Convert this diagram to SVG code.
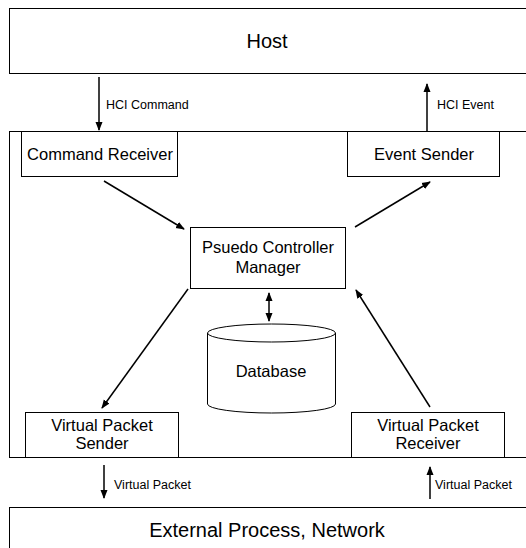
<svg xmlns="http://www.w3.org/2000/svg" width="526" height="548" viewBox="0 0 526 548">
<style>
.box{fill:#fff;stroke:#000;stroke-width:1}
.big{font-family:"Liberation Sans",Arial,sans-serif;font-size:20px;fill:#000;text-anchor:middle}
.t{font-family:"Liberation Sans",Arial,sans-serif;font-size:16.5px;fill:#000;text-anchor:middle}
.lbl{font-family:"Liberation Sans",Arial,sans-serif;font-size:12.5px;fill:#000}
.ln{stroke:#000;stroke-width:1.5;fill:none}
</style>
<defs>
<marker id="ah" markerWidth="10" markerHeight="10" refX="8" refY="5" orient="auto-start-reverse" markerUnits="userSpaceOnUse">
<path d="M0,1.5 L9,5 L0,8.5 z" fill="#000"/>
</marker>
</defs>
<rect width="526" height="548" fill="#fff"/>
<g id="host">
<rect class="box" x="9.5" y="8.5" width="600" height="65" stroke="#555"/>
<text class="big" x="267" y="48">Host</text>
</g>
<g id="controller">
<rect class="box" x="9.5" y="131.5" width="600" height="326"/>
</g>
<g id="external">
<rect class="box" x="9.5" y="507.5" width="600" height="60" stroke="#555"/>
<text class="big" x="267" y="537">External Process, Network</text>
</g>
<g id="command-receiver">
<rect class="box" x="21.5" y="131.5" width="156" height="45"/>
<text class="t" x="100" y="160">Command Receiver</text>
</g>
<g id="event-sender">
<rect class="box" x="347.5" y="131.5" width="152" height="45"/>
<text class="t" x="424" y="160">Event Sender</text>
</g>
<g id="pcm">
<rect class="box" x="190.5" y="227.5" width="155" height="61"/>
<text class="t" x="268" y="253">Psuedo Controller</text>
<text class="t" x="268" y="273">Manager</text>
</g>
<g id="database">
<path class="box" d="M207.5,333 L207.5,404 A64,9 0 0 0 335.5,404 L335.5,333 A64,9 0 0 0 207.5,333 Z"/>
<path d="M207.5,333 A64,9 0 0 0 335.5,333" fill="none" stroke="#000"/>
<text class="t" x="271" y="377">Database</text>
</g>
<g id="vp-sender">
<rect class="box" x="25.5" y="412.5" width="153" height="45"/>
<text class="t" x="102" y="431">Virtual Packet</text>
<text class="t" x="102" y="449">Sender</text>
</g>
<g id="vp-receiver">
<rect class="box" x="351.5" y="412.5" width="153" height="45"/>
<text class="t" x="428" y="431">Virtual Packet</text>
<text class="t" x="428" y="449">Receiver</text>
</g>
<g id="connectors">
<line class="ln" x1="99" y1="77" x2="99" y2="130" marker-end="url(#ah)"/>
<text class="lbl" x="106" y="109">HCI Command</text>
<line class="ln" x1="427" y1="131" x2="427" y2="84" marker-end="url(#ah)"/>
<text class="lbl" x="437" y="109">HCI Event</text>
<line class="ln" x1="104" y1="181" x2="184" y2="229" marker-end="url(#ah)"/>
<line class="ln" x1="355" y1="227" x2="430" y2="182" marker-end="url(#ah)"/>
<line class="ln" x1="188" y1="289" x2="102" y2="408" marker-end="url(#ah)"/>
<line class="ln" x1="430" y1="407" x2="356" y2="290" marker-end="url(#ah)"/>
<line class="ln" x1="269" y1="293" x2="269" y2="321" marker-start="url(#ah)" marker-end="url(#ah)"/>
<line class="ln" x1="104" y1="465" x2="104" y2="498" marker-end="url(#ah)"/>
<text class="lbl" x="114" y="489">Virtual Packet</text>
<line class="ln" x1="430" y1="499" x2="430" y2="467" marker-end="url(#ah)"/>
<text class="lbl" x="435" y="489">Virtual Packet</text>
</g>
</svg>
